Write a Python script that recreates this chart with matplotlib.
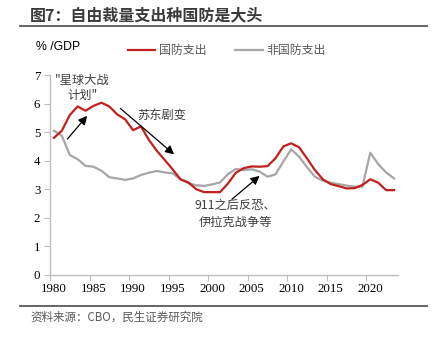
import numpy as np
import matplotlib
matplotlib.use("Agg")
import matplotlib.pyplot as plt
from matplotlib.lines import Line2D

plt.rcParams['font.family'] = ['Noto Sans CJK SC', 'DejaVu Sans']

# === DATA (% of GDP) ===
years = list(range(1980, 2024))
defense = [4.8, 5.05, 5.6, 5.9, 5.75, 5.92, 6.03, 5.9, 5.62, 5.45,
           5.07, 5.2, 4.73, 4.35, 4.03, 3.7, 3.35, 3.24, 3.0, 2.9,
           2.9, 2.9, 3.2, 3.58, 3.74, 3.8, 3.79, 3.81, 4.08, 4.5,
           4.61, 4.47, 4.08, 3.67, 3.35, 3.18, 3.11, 3.03, 3.04, 3.15,
           3.35, 3.23, 2.97, 2.97]
nondefense = [5.05, 4.87, 4.2, 4.05, 3.82, 3.79, 3.65, 3.42, 3.38, 3.33,
              3.38, 3.5, 3.58, 3.64, 3.59, 3.56, 3.35, 3.21, 3.14, 3.12,
              3.17, 3.24, 3.53, 3.71, 3.67, 3.7, 3.62, 3.44, 3.52, 3.97,
              4.4, 4.14, 3.77, 3.44, 3.3, 3.23, 3.18, 3.13, 3.09, 3.09,
              4.28, 3.88, 3.59, 3.38]
label_years = [1980, 1985, 1990, 1995, 2000, 2005, 2010, 2015, 2020]
yticks = [0, 1, 2, 3, 4, 5, 6, 7]

RED = "#c0201e"
GRAY = "#a6a6a6"
AXIS = "#bfbfbf"
TEXT = "#404040"
SERIF = ["Liberation Serif", "Noto Sans CJK SC"]

fig = plt.figure(figsize=(4.34, 3.37), dpi=100)
ax = fig.add_axes([0.1152, 0.184, 0.8018, 0.5934])

ax.plot(years, defense, color=RED, lw=1.6, label="国防支出", zorder=3)
ax.plot(years, nondefense, color=GRAY, lw=1.6, label="非国防支出", zorder=2)

ax.set_xlim(1979.5, 2023.5)
ax.set_ylim(0, 7)

# tick marks sit between years, labels sit on the years
ax.set_xticks([y - 0.5 for y in label_years])
ax.set_xticklabels([])
ax.set_xticks(label_years, minor=True)
ax.set_xticklabels([str(y) for y in label_years], minor=True, family=SERIF,
                   fontsize=9.3, color="black")
ax.tick_params(axis="x", which="major", length=4, color=AXIS, width=0.8)
ax.tick_params(axis="x", which="minor", length=0, pad=6)
ax.set_yticks(yticks)
ax.set_yticklabels([str(v) for v in yticks], family=SERIF, fontsize=9.3)
ax.tick_params(axis="y", length=4, color=AXIS, width=0.8, pad=3)

for side in ("top", "right"):
    ax.spines[side].set_visible(False)
for side in ("left", "bottom"):
    ax.spines[side].set_color(AXIS)
    ax.spines[side].set_linewidth(1.0)

# === ANNOTATIONS ===
arrow = dict(arrowstyle="-|>", color="black", lw=0.9, mutation_scale=13,
             shrinkA=0, shrinkB=0)
ax.annotate("", xy=(1984.2, 5.57), xytext=(1981.7, 4.76), arrowprops=arrow)
ax.annotate("", xy=(1995.2, 4.22), xytext=(1988.4, 5.83), arrowprops=arrow)
ax.annotate("", xy=(2006.0, 3.47), xytext=(2002.5, 2.65), arrowprops=arrow)

ax.text(1983.6, 6.55, '"星球大战\n计划"', ha="center", va="center",
        fontsize=8.8, color=TEXT, linespacing=1.2)
ax.text(1993.6, 5.6, "苏东剧变", ha="center", va="center",
        fontsize=8.8, color=TEXT)
ax.text(2002.9, 2.13, "911之后反恐、\n伊拉克战争等", ha="center", va="center",
        fontsize=8.8, color=TEXT, linespacing=1.35)

# === HEADER / FOOTER ===
fig.text(0.069, 0.955, "图7：自由裁量支出种国防是大头", fontsize=11.5,
         fontweight="bold", color="#3a3a3a", va="center", ha="left")
fig.add_artist(Line2D([0.046, 0.984], [0.922, 0.922], color="#595959", lw=1.3))
fig.add_artist(Line2D([0.046, 0.984], [0.092, 0.092], color="#595959", lw=1.3))
fig.text(0.069, 0.058, "资料来源：CBO，民生证券研究院", fontsize=8.3,
         color="#595959", va="center", ha="left")

fig.text(0.083, 0.86, "% /GDP", fontsize=8.8, color="black", va="center",
         family=["Liberation Sans", "DejaVu Sans"])
fig.legend(loc="center left", bbox_to_anchor=(0.27, 0.85), ncol=2,
           frameon=False, fontsize=8.6, handlelength=2.3, handletextpad=0.3,
           columnspacing=2.4, labelcolor="#595959")

fig.savefig("out.png", dpi=100)
